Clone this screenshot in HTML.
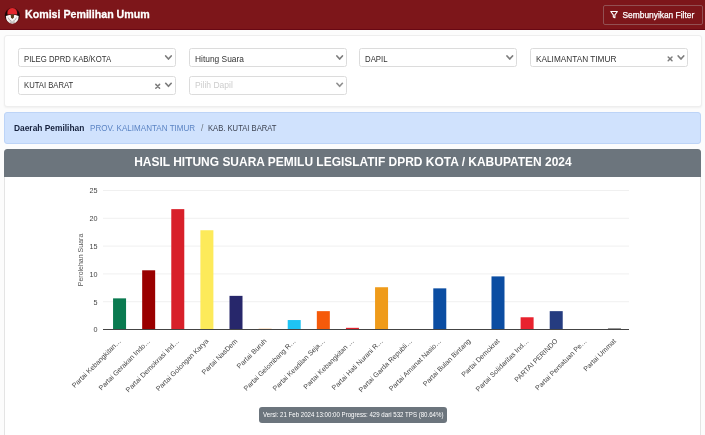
<!DOCTYPE html>
<html><head><meta charset="utf-8">
<style>
*{box-sizing:border-box;margin:0;padding:0}
html,body{width:705px;height:435px;overflow:hidden;background:#fcfcfc;font-family:"Liberation Sans",sans-serif;}
.hdr{position:absolute;left:0;top:0;width:705px;height:30px;background:#7d161a;border-bottom:1px solid #680814;}
.hdr .title{position:absolute;left:25px;top:8.4px;-webkit-text-stroke:.3px #fff;font-size:11.5px;line-height:12px;font-weight:bold;color:#fff;white-space:nowrap;transform:scaleX(.925);transform-origin:0 50%}
.btn{position:absolute;left:602.5px;top:5px;width:100px;height:19.5px;border:1px solid #925052;border-radius:2px;color:#fff;font-size:8.4px;line-height:18px;white-space:nowrap;padding-left:19px;-webkit-text-stroke:0.25px #fff}
.card{position:absolute;left:4px;top:35px;width:697.5px;height:72px;background:#fff;border:1px solid #eeeeee;border-radius:3px;box-shadow:0 1px 2px rgba(0,0,0,.05)}
.sel{position:absolute;width:158px;height:19px;border:1px solid #dcdcdc;border-radius:2.5px;background:#fff;font-size:8.6px;line-height:21.3px;padding-left:5px;color:#333;white-space:nowrap;overflow:hidden}
.sel span{display:inline-block;transform-origin:0 50%}
.sel.r2{height:18.5px;line-height:16.8px}
.sel.ph{color:#cdcdcd}
.bc{position:absolute;left:4px;top:112px;width:697px;height:31.5px;background:#d0e2fd;border:1px solid #bdd4f7;border-radius:3px;font-size:8.2px;line-height:30px;white-space:nowrap;color:#3c4250}
.bc b,.bc span{position:absolute;top:.3px;transform-origin:0 50%}
.bc b{color:#15213d}
.bc .lnk{color:#5b84c4}
.chart{position:absolute;left:4.2px;top:148.5px;width:697.3px;height:290px;background:#fff;box-shadow:inset 0 0 0 1px #e4e4e4;border-radius:3.5px 3.5px 0 0;overflow:hidden}
.chart .ch{height:28.3px;background:#6c757d;color:#fff;font-weight:bold;font-size:12.8px;line-height:25.5px;text-align:center;white-space:nowrap}
.chart .ch span{display:inline-block;transform:scaleX(.935);transform-origin:50% 50%}
.ver{position:absolute;left:259px;top:407px;width:188px;height:16.3px;background:#6c757d;border-radius:3px;color:#fff;font-size:6.8px;line-height:16px;text-align:center;white-space:nowrap;overflow:hidden}
.ver span{display:inline-block;transform:scaleX(.9);transform-origin:50% 50%;margin:0 -12px}
svg{position:absolute;left:0;top:0}
</style></head><body>
<div class="hdr">
<svg width="30" height="30" viewBox="0 0 30 30"><ellipse cx="12.3" cy="15.6" rx="7.6" ry="7.9" fill="#4a0c0f"/><path d="M6.8 10.5 Q3.8 15 6.2 19 L8.6 15.5 Z M17.8 10.5 Q20.8 15 18.4 19 L16 15.5 Z" fill="#160606"/><path d="M7.4 14.6 Q7.2 8.1 12.3 8 Q17.4 8.1 17.2 14.6 Q12.3 13.4 7.4 14.6Z" fill="#e3272c"/><path d="M5.9 16 Q12.3 13.6 18.7 16 Q18.8 23 12.3 23.7 Q5.8 23 5.9 16Z" fill="#f7f3f1"/><path d="M10.6 14.6 h3.6 l-.4 3 l-1.4 1.4 l-1.4 -1.4z" fill="#5a3a1a"/><path d="M8.2 17.6 q.8 3 3.2 3.4 M16.4 17.6 q-.8 3 -3.2 3.4" stroke="#aaa4a4" stroke-width=".9" fill="none"/><path d="M9.6 22.1h5.4" stroke="#8a8585" stroke-width=".8"/></svg>
<div class="title">Komisi Pemilihan Umum</div>
<div class="btn">Sembunyikan Filter</div>
<svg width="705" height="30" viewBox="0 0 705 30"><path d="M610.8 11.5h6.6l-2.5 3.3v3l-1.6-.9v-2.1z" fill="none" stroke="#fff" stroke-width="1.1" stroke-linejoin="round"/></svg>
</div>
<div class="card"></div>
<div class="sel" style="left:18px;top:48.2px"><span style="transform:scaleX(0.9)">PILEG DPRD KAB/KOTA</span></div>
<div class="sel" style="left:189px;top:48.2px"><span style="transform:scaleX(0.977)">Hitung Suara</span></div>
<div class="sel" style="left:358.7px;top:48.2px"><span style="transform:scaleX(0.907)">DAPIL</span></div>
<div class="sel" style="left:530.2px;top:48.2px"><span style="transform:scaleX(0.96)">KALIMANTAN TIMUR</span></div>
<div class="sel r2" style="left:18px;top:76px"><span style="transform:scaleX(0.895)">KUTAI BARAT</span></div>
<div class="sel r2 ph" style="left:189px;top:76px"><span style="transform:scaleX(0.99)">Pilih Dapil</span></div>
<svg width="705" height="110" viewBox="0 0 705 110" fill="none" stroke="#7d7d7d" stroke-width="1.7" stroke-linecap="round" stroke-linejoin="round">
<path d="M165.7 56l2.75 3 2.75-3"/>
<path d="M336.9 56l2.75 3 2.75-3"/>
<path d="M507 56l2.75 3 2.75-3"/>
<path d="M678.2 56l2.75 3 2.75-3"/>
<path d="M165.7 83.3l2.75 3 2.75-3"/>
<path d="M336.9 83.3l2.75 3 2.75-3" stroke="#909090"/>
<path d="M155.8 84.4l3.8 3.8m0-3.8l-3.8 3.8" stroke-width="1.5"/>
<path d="M668.2 57l3.8 3.8m0-3.8l-3.8 3.8" stroke-width="1.5"/>
</svg>
<div class="bc"><b style="left:9px;font-size:9px;transform:scaleX(.931)">Daerah Pemilihan</b><span class="lnk" style="left:84.5px;font-size:9.1px;transform:scaleX(.887)">PROV. KALIMANTAN TIMUR</span><span style="left:196px;font-size:8.5px;color:#6c757d">/</span><span style="left:203px;font-size:8.8px;transform:scaleX(.868)">KAB. KUTAI BARAT</span></div>
<div class="chart"><div class="ch"><span>HASIL HITUNG SUARA PEMILU LEGISLATIF DPRD KOTA / KABUPATEN 2024</span></div></div>
<!--CHART--><svg width="705" height="435" viewBox="0 0 705 435" font-family="Liberation Sans, sans-serif">
<rect x="103" y="301.20" width="526.0" height="1" fill="#f0f0f0"/>
<rect x="103" y="273.40" width="526.0" height="1" fill="#f0f0f0"/>
<rect x="103" y="245.60" width="526.0" height="1" fill="#f0f0f0"/>
<rect x="103" y="217.80" width="526.0" height="1" fill="#f0f0f0"/>
<rect x="103" y="190.00" width="526.0" height="1" fill="#f0f0f0"/>
<rect x="113.06" y="298.36" width="13" height="31.14" fill="#0a7a50"/>
<text transform="translate(121.56,341.50) rotate(-45)" text-anchor="end" font-size="7" fill="#444">Partai Kebangkitan…</text>
<rect x="142.17" y="270.29" width="13" height="59.21" fill="#9a0000"/>
<text transform="translate(150.67,341.50) rotate(-45)" text-anchor="end" font-size="7" fill="#444">Partai Gerakan Indo…</text>
<rect x="171.28" y="209.13" width="13" height="120.37" fill="#d8202a"/>
<text transform="translate(179.78,341.50) rotate(-45)" text-anchor="end" font-size="7" fill="#444">Partai Demokrasi Ind…</text>
<rect x="200.39" y="230.25" width="13" height="99.25" fill="#fdea5a"/>
<text transform="translate(208.89,341.50) rotate(-45)" text-anchor="end" font-size="7" fill="#444">Partai Golongan Karya</text>
<rect x="229.50" y="295.86" width="13" height="33.64" fill="#27276b"/>
<text transform="translate(238.00,341.50) rotate(-45)" text-anchor="end" font-size="7" fill="#444">Partai NasDem</text>
<rect x="258.61" y="328.67" width="13" height="0.83" fill="#f7b878"/>
<text transform="translate(267.11,341.50) rotate(-45)" text-anchor="end" font-size="7" fill="#444">Partai Buruh</text>
<rect x="287.72" y="320.05" width="13" height="9.45" fill="#1ec4f4"/>
<text transform="translate(296.22,341.50) rotate(-45)" text-anchor="end" font-size="7" fill="#444">Partai Gelombang R…</text>
<rect x="316.83" y="311.15" width="13" height="18.35" fill="#f55a0a"/>
<text transform="translate(325.33,341.50) rotate(-45)" text-anchor="end" font-size="7" fill="#444">Partai Keadilan Seja…</text>
<rect x="345.94" y="327.83" width="13" height="1.67" fill="#e2202c"/>
<text transform="translate(354.44,341.50) rotate(-45)" text-anchor="end" font-size="7" fill="#444">Partai Kebangkitan …</text>
<rect x="375.06" y="287.24" width="13" height="42.26" fill="#ef9b1a"/>
<text transform="translate(383.56,341.50) rotate(-45)" text-anchor="end" font-size="7" fill="#444">Partai Hati Nurani R…</text>
<text transform="translate(412.67,341.50) rotate(-45)" text-anchor="end" font-size="7" fill="#444">Partai Garda Republi…</text>
<rect x="433.28" y="288.36" width="13" height="41.14" fill="#0b4da2"/>
<text transform="translate(441.78,341.50) rotate(-45)" text-anchor="end" font-size="7" fill="#444">Partai Amanat Nasio…</text>
<text transform="translate(470.89,341.50) rotate(-45)" text-anchor="end" font-size="7" fill="#444">Partai Bulan Bintang</text>
<rect x="491.50" y="276.40" width="13" height="53.10" fill="#0b4da2"/>
<text transform="translate(500.00,341.50) rotate(-45)" text-anchor="end" font-size="7" fill="#444">Partai Demokrat</text>
<rect x="520.61" y="317.27" width="13" height="12.23" fill="#e8222e"/>
<text transform="translate(529.11,341.50) rotate(-45)" text-anchor="end" font-size="7" fill="#444">Partai Solidaritas Ind…</text>
<rect x="549.72" y="311.15" width="13" height="18.35" fill="#253c80"/>
<text transform="translate(558.22,341.50) rotate(-45)" text-anchor="end" font-size="7" fill="#444">PARTAI PERINDO</text>
<text transform="translate(587.33,341.50) rotate(-45)" text-anchor="end" font-size="7" fill="#444">Partai Persatuan Pe…</text>
<rect x="607.94" y="328.11" width="13" height="1.39" fill="#8c8c8c"/>
<text transform="translate(616.44,341.50) rotate(-45)" text-anchor="end" font-size="7" fill="#444">Partai Ummat</text>
<rect x="103" y="329.0" width="526.0" height="1" fill="#444"/>
<text x="97.5" y="332.40" text-anchor="end" font-size="7.2" fill="#444">0</text>
<text x="97.5" y="304.60" text-anchor="end" font-size="7.2" fill="#444">5</text>
<text x="97.5" y="276.80" text-anchor="end" font-size="7.2" fill="#444">10</text>
<text x="97.5" y="249.00" text-anchor="end" font-size="7.2" fill="#444">15</text>
<text x="97.5" y="221.20" text-anchor="end" font-size="7.2" fill="#444">20</text>
<text x="97.5" y="193.40" text-anchor="end" font-size="7.2" fill="#444">25</text>
<text transform="translate(83,260) rotate(-90)" text-anchor="middle" font-size="7" fill="#555">Perolehan Suara</text>
</svg><!--/CHART-->
<div class="ver"><span>Versi: 21 Feb 2024 13:00:00 Progress: 429 dari 532 TPS (80.64%)</span></div>
</body></html>
